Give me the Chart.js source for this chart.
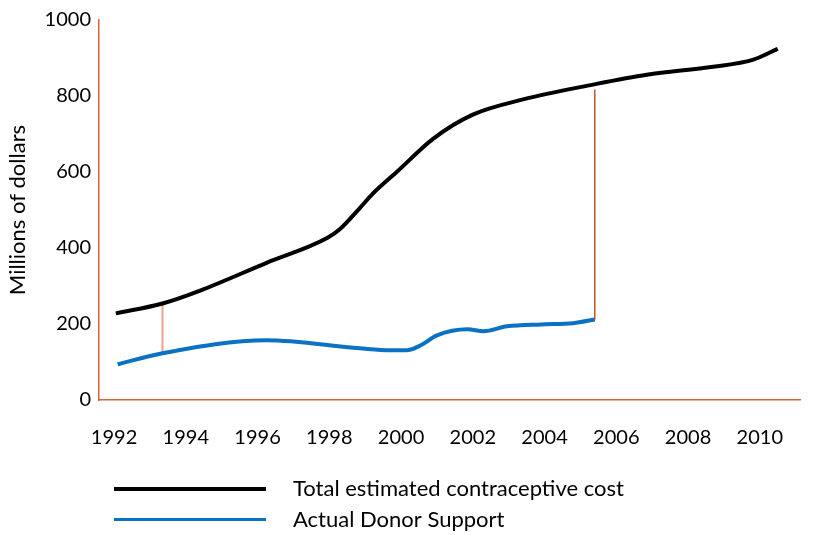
<!DOCTYPE html>
<html>
<head>
<meta charset="utf-8">
<script src="https://cdn.jsdelivr.net/npm/chart.js@4.4.1/dist/chart.umd.min.js"></script>
<style>
  html, body { margin: 0; padding: 0; background: #fff; }
  #wrap { width: 818px; height: 535px; }
</style>
</head>
<body>
<div id="wrap"><canvas id="chart"></canvas></div>
<script>
// tick labels
const tickYears = [1992, 1994, 1996, 1998, 2000, 2002, 2004, 2006, 2008, 2010]

// Total estimated contraceptive cost (millions of dollars)
const totalYears = [1992.05, 1993.35, 1994.4, 1996.25, 1997.95, 1998.3, 1998.85, 1999.2, 1999.9, 2000.9, 2002.0, 2003.4, 2005.35, 2006.85, 2008.7, 2009.8, 2010.5]
const totalCost = [228, 254, 288, 361, 427, 450, 505, 542, 602, 688, 751, 791, 830, 856, 877, 895, 924]

// Actual donor support (millions of dollars)
const donorYears = [1992.1, 1993.35, 1996.25, 1998.85, 1999.7, 2000.15, 2000.55, 2001.0, 2001.85, 2002.3, 2002.95, 2003.9, 2004.8, 2005.4]
const donorSupport = [94, 123, 157, 136, 131, 131, 144, 170, 186, 181, 194, 199, 202, 212]

// the two gap markers between the curves
const gapYears = [1993.35, 2005.4]
const gapLow = [123, 212]
const gapHigh = [254, 817]
const gapColors = ['#eaa28c', '#c4532c']

const axisColor = '#d5623a'

Chart.defaults.font.family = 'Lato, "Open Sans", sans-serif'
Chart.defaults.color = '#000'

// long line swatch for the legend (line drawn on the left part only)
function legendSwatch(color, thickness) {
  const c = document.createElement('canvas')
  c.width = 162
  c.height = 4
  const g = c.getContext('2d')
  g.fillStyle = color
  g.fillRect(0, 0, 152, thickness)
  return c
}

const swatches = [legendSwatch('#000000', 4), legendSwatch('#0b71c3', 3)]

const toPoints = (xs, ys) => xs.map((x, i) => ({x: x, y: ys[i]}))

const gapSets = gapYears.map((yr, i) => ({
  label: 'gap' + i,
  data: [{x: yr, y: gapLow[i]}, {x: yr, y: gapHigh[i]}],
  borderColor: gapColors[i],
  borderWidth: i === 0 ? 2 : 1.5,
  pointRadius: 0,
  order: 5
}))

new Chart(document.getElementById('chart'), {
  type: 'line',
  data: {
    datasets: [
      {
        label: 'Total estimated contraceptive cost',
        data: toPoints(totalYears, totalCost),
        borderColor: '#000000',
        backgroundColor: '#000000',
        borderWidth: 4,
        pointRadius: 0,
        cubicInterpolationMode: 'monotone',
        order: 1
      },
      {
        label: 'Actual Donor Support',
        data: toPoints(donorYears, donorSupport),
        borderColor: '#0b71c3',
        backgroundColor: '#0b71c3',
        borderWidth: 4,
        pointRadius: 0,
        cubicInterpolationMode: 'monotone',
        order: 2
      },
      ...gapSets
    ]
  },
  options: {
    responsive: true,
    maintainAspectRatio: false,
    animation: false,
    layout: {
      padding: {top: 6, left: 5, right: 18, bottom: 2}
    },
    plugins: {
      tooltip: {enabled: false},
      legend: {
        position: 'bottom',
        align: 'start',
        fullSize: false,
        maxHeight: 64,
        labels: {
          usePointStyle: true,
          pointStyleWidth: 174,
          padding: 9,
          font: {size: 22},
          color: '#000',
          generateLabels(chart) {
            const items = Chart.defaults.plugins.legend.labels.generateLabels(chart)
            return items
              .filter(it => it.datasetIndex < 2)
              .map(it => Object.assign(it, {pointStyle: swatches[it.datasetIndex]}))
          }
        }
      }
    },
    scales: {
      x: {
        type: 'linear',
        min: 1991.58,
        max: 2011.12,
        grid: {display: false, drawTicks: false},
        border: {display: true, color: axisColor, width: 1.5},
        afterBuildTicks(scale) {
          scale.ticks = tickYears.map(v => ({value: v}))
        },
        afterFit(scale) {
          scale.height = 69
        },
        ticks: {
          padding: 26,
          maxRotation: 0,
          autoSkip: false,
          font: {size: 20},
          color: '#000',
          callback: v => String(v)
        }
      },
      y: {
        min: 0,
        max: 1000,
        grid: {display: false, drawTicks: false},
        border: {display: true, color: axisColor, width: 1.5},
        afterFit(scale) {
          scale.width = 94
        },
        ticks: {
          stepSize: 200,
          padding: 8,
          font: {size: 20},
          color: '#000',
          callback: v => String(v)
        },
        title: {
          display: true,
          text: 'Millions of dollars',
          font: {size: 22},
          color: '#000',
          padding: {top: 0, bottom: 4}
        }
      }
    }
  }
})
</script>
</body>
</html>
